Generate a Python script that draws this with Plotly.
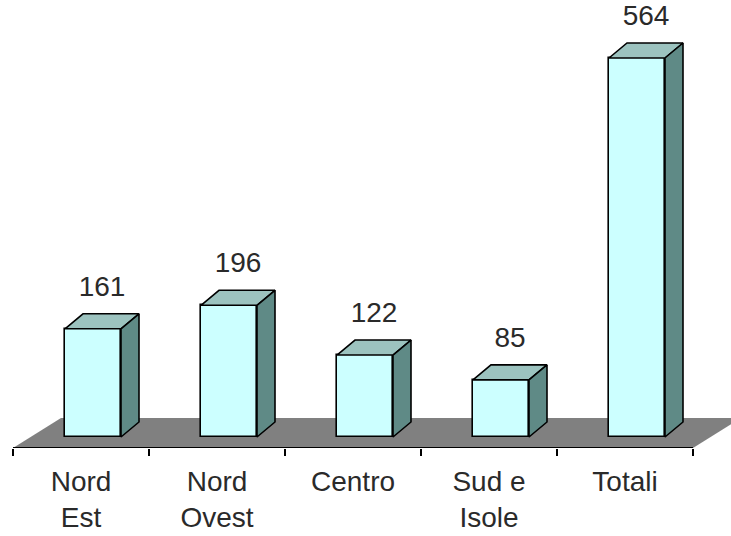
import plotly.graph_objects as go

# ---- data ----
categories = ["Nord<br>Est", "Nord<br>Ovest", "Centro", "Sud e<br>Isole", "Totali"]
values = [161, 196, 122, 85, 564]
value_labels = ["161", "196", "122", "85", "564"]

# ---- geometry / style constants ----
W, H = 731, 536
PX_X = 136.0          # pixels per category
PX_Y = 0.672          # pixels per value unit
AXIS_LEFT_PX = 13     # left end of category axis
MARGIN_B = 88         # plot bottom (floor front edge) at 448 px
BASE_PX = 11          # bar base above floor front edge, px

x0 = -0.5 - AXIS_LEFT_PX / PX_X
x1 = x0 + W / PX_X
plot_h = H - MARGIN_B
y0 = -BASE_PX / PX_Y
y1 = y0 + plot_h / PX_Y

BAR_OFF = -0.5 + 52 / PX_X    # front face left edge relative to category
BAR_W = 56 / PX_X
DX = 18 / PX_X                # depth shift of bar
DY = 15 / PX_Y
FDX = 48 / PX_X               # depth shift of floor
FDY = 30 / PX_Y
LABEL_GAP = 40 / PX_Y

FRONT = "#CCFFFF"
TOP = "#9CC3BF"
SIDE = "#5F8A86"
FLOOR = "#808080"
FONT = "Liberation Sans, Arial, sans-serif"

n = len(categories)
xs = list(range(n))

fig = go.Figure()

# front faces
fig.add_trace(go.Bar(
    x=xs, y=values, offset=BAR_OFF, width=BAR_W,
    marker=dict(color=FRONT, line=dict(color="black", width=1.6)),
    showlegend=False, hoverinfo="skip",
))

# top and side faces
for i, v in enumerate(values):
    xl = i + BAR_OFF
    xr = xl + BAR_W
    fig.add_trace(go.Scatter(
        x=[xl, xr, xr + DX, xl + DX, xl], y=[v, v, v + DY, v + DY, v],
        fill="toself", fillcolor=TOP, mode="lines",
        line=dict(color="black", width=1.6), showlegend=False, hoverinfo="skip"))
    fig.add_trace(go.Scatter(
        x=[xr, xr + DX, xr + DX, xr, xr], y=[v, v + DY, DY, 0, v],
        fill="toself", fillcolor=SIDE, mode="lines",
        line=dict(color="black", width=1.6), showlegend=False, hoverinfo="skip"))

# value labels
fig.add_trace(go.Scatter(
    x=[i + BAR_OFF + (BAR_W + DX) / 2 for i in xs],
    y=[v + LABEL_GAP for v in values],
    text=value_labels, mode="text", textposition="middle center",
    textfont=dict(family=FONT, size=28, color="#2a2a2a"),
    cliponaxis=False, showlegend=False, hoverinfo="skip"))

# floor
fl, fr = -0.5, n - 0.5
path = (f"M {fl},{y0} L {fr},{y0} L {fr + FDX},{y0 + FDY} "
        f"L {fl + FDX},{y0 + FDY} Z")
fig.add_shape(type="path", path=path, xref="x", yref="y",
              fillcolor=FLOOR, line=dict(width=0), layer="below")
fig.add_shape(type="line", x0=fl, x1=fr, y0=y0, y1=y0, xref="x", yref="y",
              line=dict(color="black", width=2), layer="above")

fig.update_layout(
    width=W, height=H,
    margin=dict(l=0, r=0, t=0, b=MARGIN_B),
    paper_bgcolor="white", plot_bgcolor="white",
    bargap=0,
    xaxis=dict(
        range=[x0, x1], tickmode="array", tickvals=xs, ticktext=categories,
        ticks="", showgrid=False, zeroline=False, showline=False,
        ticklabelstandoff=14,
        tickfont=dict(family=FONT, size=28, color="#2a2a2a"),
        minor=dict(tickmode="linear", tick0=-0.5, dtick=1, ticks="outside",
                   ticklen=7, tickwidth=2, tickcolor="black", showgrid=False),
    ),
    yaxis=dict(range=[y0, y1], visible=False, showgrid=False, zeroline=False),
)

fig.write_html("out.html")
